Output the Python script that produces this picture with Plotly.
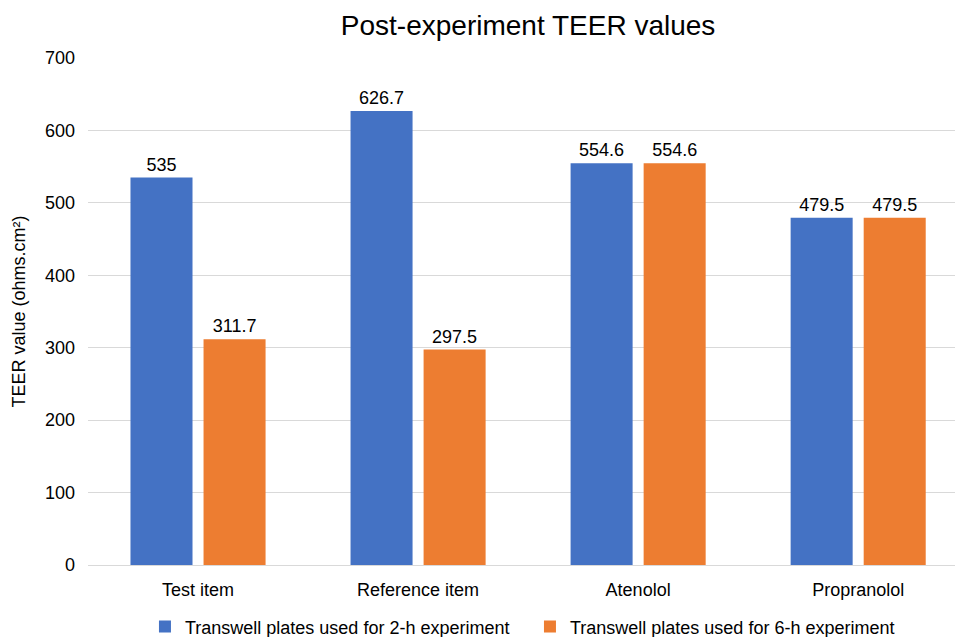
import plotly.graph_objects as go

categories = ["Test item", "Reference item", "Atenolol", "Propranolol"]
teer_2h = [535, 626.7, 554.6, 479.5]
teer_6h = [311.7, 297.5, 554.6, 479.5]
series_names = ["Transwell plates used for 2-h experiment",
                "Transwell plates used for 6-h experiment"]
y_ticks = [0, 100, 200, 300, 400, 500, 600, 700]

FONT = "Liberation Sans, Arial, sans-serif"

fig = go.Figure()
for name, vals, color in [(series_names[0], teer_2h, "#4472C4"),
                          (series_names[1], teer_6h, "#ED7D31")]:
    fig.add_trace(go.Bar(
        x=list(range(len(categories))), y=vals, name=name,
        marker=dict(color=color, line=dict(width=0)),
        text=[f"{v:g}" for v in vals], textposition="outside",
        textfont=dict(size=18, color="#000000", family=FONT),
        constraintext="none",
        cliponaxis=False,
    ))

fig.update_layout(
    width=955, height=637,
    margin=dict(l=88, r=0, t=58, b=72, autoexpand=False),
    paper_bgcolor="white", plot_bgcolor="white",
    barmode="group", bargap=0.336, bargroupgap=0.151,
    font=dict(family=FONT, size=18, color="#000000"),
    title=dict(text="Post-experiment TEER values", x=0.553, xanchor="center",
               xref="container", yref="container", y=0.961, yanchor="middle",
               font=dict(size=28, family=FONT, color="#000000")),
    xaxis=dict(tickmode="array", tickvals=list(range(len(categories))),
               ticktext=categories, range=[-0.5, 3.44], showgrid=False,
               showline=False, ticks="", tickfont=dict(size=18),
               ticklabelstandoff=12),
    yaxis=dict(range=[0, 700], tickvals=y_ticks, showgrid=True,
               gridcolor="#d9d9d9", gridwidth=1, zeroline=True,
               zerolinecolor="#d9d9d9", zerolinewidth=1, ticks="",
               ticklabelstandoff=12, tickfont=dict(size=18),
               title=dict(text="TEER value (ohms.cm²)", font=dict(size=18),
                          standoff=14)),
    legend=dict(orientation="h", xref="paper", x=0.0657, xanchor="left",
                yref="container", y=0.016, yanchor="middle",
                font=dict(size=18), itemwidth=30,
                entrywidth=340, entrywidthmode="pixels"),
    showlegend=True,
)

fig.write_html("out.html")
